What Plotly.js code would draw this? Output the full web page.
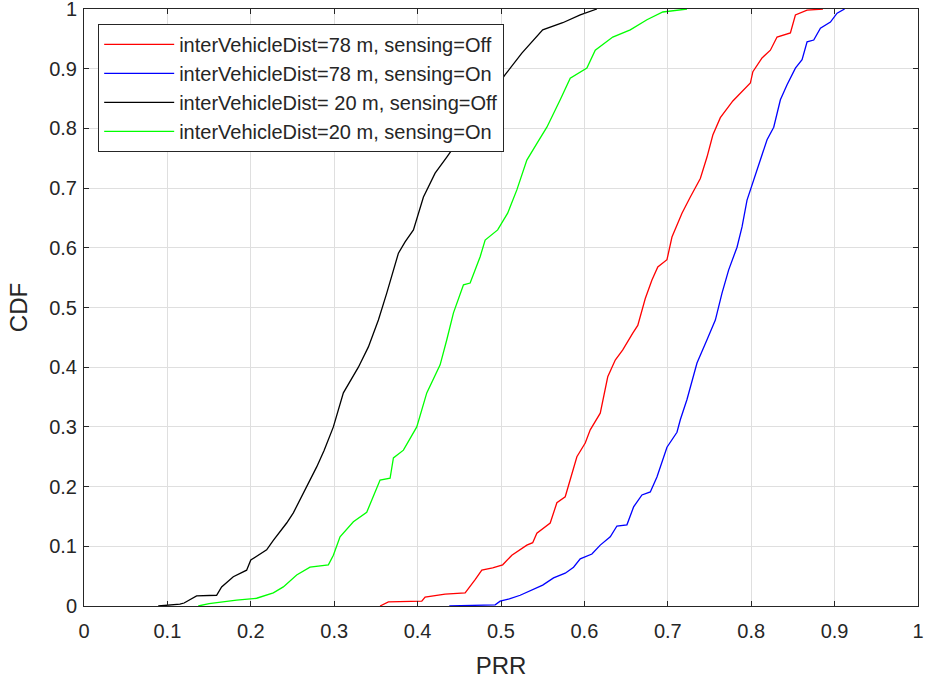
<!DOCTYPE html>
<html>
<head>
<meta charset="utf-8">
<script src="https://cdn.plot.ly/plotly-3.0.1.min.js"></script>
<style>html,body{margin:0;padding:0;background:#fff;}#chart{width:925px;height:679px;}</style>
</head>
<body>
<div id="chart"></div>
<script>
// Series names
const seriesNames = [
  "interVehicleDist=78 m, sensing=Off",
  "interVehicleDist=78 m, sensing=On",
  "interVehicleDist= 20 m, sensing=Off",
  "interVehicleDist=20 m, sensing=On"
];
const seriesColors = ["#ff0000", "#0000ff", "#000000", "#00ff00"];

// 78 m, sensing Off (red)
const redPRR = [0.355,0.36,0.365,0.405,0.409,0.433,0.457,0.469,0.477,0.49,0.502,0.513,0.531,0.538,0.543,0.559,0.567,0.577,0.583,0.591,0.601,0.607,0.619,0.628,0.637,0.646,0.658,0.664,0.673,0.681,0.688,0.699,0.705,0.717,0.727,0.739,0.747,0.754,0.763,0.778,0.799,0.802,0.813,0.823,0.831,0.847,0.853,0.867,0.886];
const redCDF = [0.0,0.003,0.007,0.008,0.015,0.020,0.022,0.044,0.060,0.064,0.069,0.085,0.102,0.106,0.122,0.139,0.173,0.183,0.211,0.250,0.273,0.295,0.323,0.384,0.412,0.429,0.457,0.470,0.515,0.546,0.568,0.580,0.618,0.658,0.685,0.716,0.752,0.789,0.818,0.846,0.876,0.895,0.918,0.931,0.953,0.960,0.990,0.998,1.0];

// 78 m, sensing On (blue)
const bluePRR = [0.438,0.493,0.499,0.51,0.523,0.538,0.55,0.563,0.577,0.587,0.595,0.609,0.619,0.631,0.639,0.651,0.659,0.669,0.679,0.687,0.699,0.711,0.715,0.723,0.735,0.747,0.757,0.765,0.773,0.783,0.789,0.795,0.803,0.811,0.819,0.827,0.835,0.843,0.853,0.861,0.867,0.875,0.883,0.895,0.903,0.912];
const blueCDF = [0.0,0.002,0.008,0.012,0.018,0.027,0.035,0.047,0.055,0.065,0.079,0.087,0.102,0.116,0.134,0.136,0.166,0.186,0.191,0.216,0.266,0.291,0.312,0.346,0.407,0.446,0.479,0.524,0.563,0.601,0.635,0.680,0.714,0.747,0.781,0.802,0.848,0.873,0.901,0.915,0.945,0.948,0.968,0.978,0.993,1.0];

// 20 m, sensing Off (black)
const blackPRR = [0.089,0.115,0.12,0.135,0.159,0.165,0.179,0.195,0.2,0.219,0.227,0.243,0.251,0.267,0.279,0.288,0.299,0.311,0.329,0.341,0.353,0.363,0.377,0.385,0.395,0.407,0.421,0.435,0.445,0.465,0.485,0.505,0.525,0.55,0.574,0.595,0.615];
const blackCDF = [0.0,0.003,0.005,0.017,0.018,0.032,0.049,0.060,0.077,0.094,0.110,0.139,0.156,0.200,0.233,0.261,0.300,0.357,0.400,0.434,0.479,0.524,0.591,0.610,0.630,0.685,0.725,0.752,0.772,0.81,0.85,0.89,0.926,0.965,0.977,0.990,1.0];

// 20 m, sensing On (green)
const greenPRR = [0.137,0.15,0.183,0.207,0.227,0.239,0.255,0.271,0.293,0.299,0.307,0.323,0.339,0.355,0.367,0.371,0.383,0.399,0.411,0.427,0.435,0.443,0.455,0.463,0.475,0.481,0.496,0.508,0.519,0.531,0.544,0.555,0.571,0.583,0.603,0.613,0.634,0.655,0.675,0.694,0.723];
const greenCDF = [0.0,0.004,0.010,0.013,0.022,0.032,0.052,0.065,0.069,0.085,0.116,0.141,0.157,0.211,0.214,0.248,0.261,0.300,0.357,0.404,0.446,0.491,0.538,0.541,0.585,0.613,0.630,0.658,0.697,0.747,0.777,0.802,0.848,0.884,0.901,0.931,0.953,0.965,0.982,0.995,1.0];

// Tick labels
const xTicks = [0,0.1,0.2,0.3,0.4,0.5,0.6,0.7,0.8,0.9,1];
const yTicks = [0,0.1,0.2,0.3,0.4,0.5,0.6,0.7,0.8,0.9,1];
const xTickText = ["0","0.1","0.2","0.3","0.4","0.5","0.6","0.7","0.8","0.9","1"];
const yTickText = ["0","0.1","0.2","0.3","0.4","0.5","0.6","0.7","0.8","0.9","1"];

const xs = [redPRR, bluePRR, blackPRR, greenPRR];
const ys = [redCDF, blueCDF, blackCDF, greenCDF];

const traces = seriesNames.map((n, i) => ({
  type: "scatter", mode: "lines", name: n,
  x: xs[i], y: ys[i],
  legendgroup: "g" + i,
  line: {color: seriesColors[i], width: 1.3},
  hoverinfo: "x+y"
}));

const txt = "#262626";
const fam = "Liberation Sans, Arial, sans-serif";
const axisCommon = {
  range: [0, 1], showgrid: true, gridcolor: "#dfdfdf", gridwidth: 1,
  zeroline: false, showline: true, linecolor: txt, linewidth: 1, mirror: "ticks",
  ticks: "inside", ticklen: 5, tickcolor: txt, tickwidth: 1,
  tickfont: {family: fam, size: 20, color: txt},
  ticklabeloverflow: "allow",
  automargin: false, tickmode: "array"
};

const layout = {
  width: 925, height: 679,
  margin: {l: 84, r: 7, t: 9, b: 73},
  paper_bgcolor: "#ffffff", plot_bgcolor: "#ffffff",
  showlegend: true,
  xaxis: Object.assign({}, axisCommon, {
    tickvals: xTicks, ticktext: xTickText, ticklabelstandoff: 7,
    title: {text: "PRR", font: {family: fam, size: 24, color: txt}, standoff: 20}
  }),
  yaxis: Object.assign({}, axisCommon, {
    tickvals: yTicks, ticktext: yTickText, ticklabelstandoff: 2,
    title: {text: "CDF", font: {family: fam, size: 24, color: txt}, standoff: 14}
  }),
  legend: {
    x: 0.017, y: 0.975, xanchor: "left", yanchor: "top",
    bgcolor: "#ffffff", bordercolor: txt, borderwidth: 1,
    font: {family: fam, size: 20, color: txt},
    tracegroupgap: 0, itemwidth: 70
  }
};

Plotly.newPlot("chart", traces, layout, {displayModeBar: false, staticPlot: true});
</script>
</body>
</html>
